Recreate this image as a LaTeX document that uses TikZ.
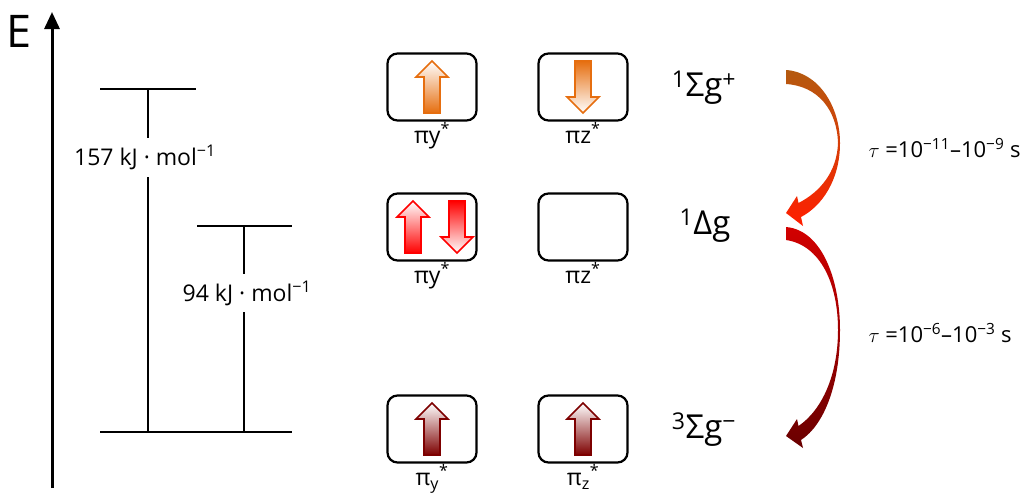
\documentclass[tikz,border=0pt]{standalone}
\usepackage{fontspec}
\setmainfont{Open Sans}
\usepackage{tikz}
\usetikzlibrary{arrows.meta, positioning, calc}
\definecolor{spinor}{RGB}{230,110,15}
\definecolor{spinred}{RGB}{255,0,0}
\definecolor{spindark}{RGB}{125,0,0}
\definecolor{decaytop}{RGB}{180,90,15}
\definecolor{decaybot}{RGB}{255,30,0}
\definecolor{relaxtop}{RGB}{210,0,0}
\definecolor{relaxbot}{RGB}{105,0,0}
\tikzset{
  orb/.style={draw, rounded corners=10pt, line width=2.2pt,
    minimum width=89pt, minimum height=67pt, inner sep=0pt},
  orblab/.style={font=\fontsize{23}{23}\selectfont, inner sep=0.5pt},
  term/.style={font=\fontsize{33}{33}\selectfont},
  level/.style={line width=1.8pt},
  elab/.style={fill=white, inner xsep=1pt, inner ysep=7pt,
    font=\fontsize{23}{23}\selectfont},
  tlab/.style={font=\fontsize{22}{22}\selectfont, anchor=west},
  spin/.style={line width=1.6pt, line join=miter},
  pics/spinup/.style={code={
    \path[spin, draw=#1, top color=white, bottom color=#1]
      (-8,26) -- (-8,-10) -- (-16,-10) -- (0,-26) -- (16,-10) -- (8,-10) -- (8,26) -- cycle;}},
  pics/spindown/.style={code={
    \path[spin, draw=#1, top color=#1, bottom color=white]
      (-8,-26) -- (-8,10) -- (-16,10) -- (0,26) -- (16,10) -- (8,10) -- (8,-26) -- cycle;}}
}

\begin{document}
\begin{tikzpicture}[x=1pt, y=-1pt]
  \useasboundingbox (0,0) rectangle (1027,493);

  % Energy axis
  \draw[line width=3pt, -{Triangle[width=15pt, length=17pt]}] (52,488) -- (52,12);
  \node[font=\fontsize{45}{45}\selectfont] (elabel) at (19,31) {E};

  % Levels
  \coordinate (s2l) at (100,89);   \coordinate (s2r) at (196,89);
  \coordinate (s1l) at (197,226);  \coordinate (s1r) at (292,226);
  \coordinate (s0l) at (100,432);  \coordinate (s0r) at (292,432);
  \draw[level] (s2l) -- (s2r);
  \draw[level] (s1l) -- (s1r);
  \draw[level] (s0l) -- (s0r);
  \coordinate (g2) at (148,89);   \coordinate (g2b) at (148,432);
  \coordinate (g1) at (244,226);  \coordinate (g1b) at (244,432);
  \draw[level] (g2) -- node[elab, pos=0.2, xshift=-3pt] (e157) {157 kJ · mol\textsuperscript{−1}} (g2b);
  \draw[level] (g1) -- node[elab, pos=0.325, xshift=3pt] (e94) {94 kJ · mol\textsuperscript{−1}} (g1b);

  % Orbital boxes
  \node[orb] (ya) at (432,87) {};
  \node[orb] (za) at (583,87) {};
  \node[orb] (yb) at (432,227) {};
  \node[orb] (zb) at (583,227) {};
  \node[orb] (yc) at (432,429) {};
  \node[orb] (zc) at (583,429) {};
  \node[orblab, below=0pt of ya] (yalab) {πy\textsuperscript{*}};
  \node[orblab, below=0pt of za] (zalab) {πz\textsuperscript{*}};
  \node[orblab, below=0pt of yb] (yblab) {πy\textsuperscript{*}};
  \node[orblab, below=0pt of zb] (zblab) {πz\textsuperscript{*}};
  \node[orblab, below=0pt of yc] (yclab) {π\textsubscript{y}\textsuperscript{*}};
  \node[orblab, below=0pt of zc] (zclab) {π\textsubscript{z}\textsuperscript{*}};

  % Spins
  \pic at (ya) {spinup=spinor};
  \pic at (za) {spindown=spinor};
  \pic at ($(yb)+(-19,0)$) {spinup=spinred};
  \pic at ($(yb)+(25,0)$) {spindown=spinred};
  \pic at (yc) {spinup=spindark};
  \pic at (zc) {spinup=spindark};

  % Term symbols
  \node[term] (t2) at (704,88) {\textsuperscript{1}Σg\textsuperscript{+}};
  \node[term] (t1) at (705,226) {\textsuperscript{1}Δg};
  \node[term] (t0) at (704,430) {\textsuperscript{3}Σg\textsuperscript{−}};

  % Relaxation arrows
  \path[top color=decaytop, bottom color=decaybot]
    (786,70) .. controls (818,72) and (840,106) .. (840,143)
    .. controls (840,180) and (822,206) .. (801,217)
    -- (803,226) -- (786,213) -- (797,196) -- (798.5,203)
    .. controls (820,192) and (837,172) .. (838,143)
    .. controls (837,110) and (818,86) .. (786,84) -- cycle;
  \path[top color=relaxtop, bottom color=relaxbot]
    (786,227) .. controls (822,230) and (840,280) .. (840,330)
    .. controls (840,385) and (824,425) .. (801,440)
    -- (803,448) -- (786,436) -- (797,419) -- (798.5,426)
    .. controls (822,410) and (838,375) .. (838,330)
    .. controls (838,283) and (820,245) .. (786,240) -- cycle;
  \node[tlab] (tau2) at (865,148) {$\tau$ =10\textsuperscript{−11}–10\textsuperscript{−9} s};
  \node[tlab] (tau1) at (865,333) {$\tau$ =10\textsuperscript{−6}–10\textsuperscript{−3} s};
\end{tikzpicture}
\end{document}
